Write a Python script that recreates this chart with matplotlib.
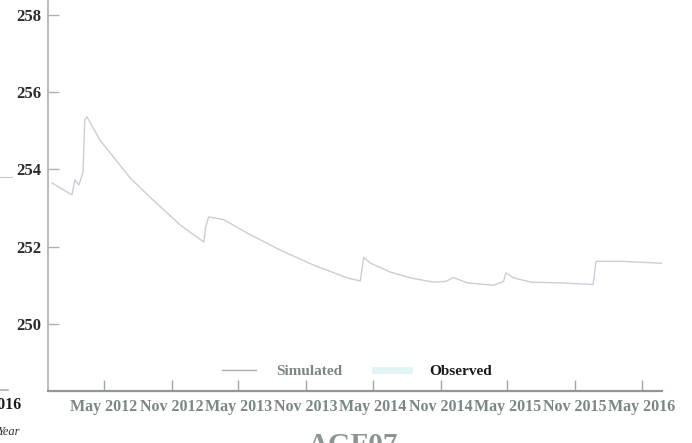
import matplotlib
matplotlib.use("Agg")
import matplotlib.pyplot as plt
from matplotlib.lines import Line2D
import pandas as pd

# Simulated groundwater head at well AGF07
sim_dates = [
    "2011-12-12", "2012-02-04", "2012-02-12", "2012-02-23", "2012-03-05",
    "2012-03-10", "2012-03-16", "2012-04-20", "2012-07-11",
    "2012-09-11", "2012-11-24", "2013-01-27", "2013-02-01", "2013-02-09",
    "2013-03-22", "2013-05-25", "2013-08-23", "2013-11-21", "2014-02-21",
    "2014-03-28", "2014-04-06", "2014-04-25", "2014-06-18", "2014-08-11",
    "2014-10-13", "2014-11-15", "2014-12-06", "2015-01-13", "2015-03-25",
    "2015-04-21", "2015-04-27", "2015-05-19", "2015-07-04", "2015-09-23",
    "2015-12-20", "2015-12-28", "2016-03-05", "2016-06-22",
]
sim_values = [
    253.65, 253.34, 253.73, 253.60, 253.93,
    255.30, 255.36, 254.76, 253.78,
    253.21, 252.56, 252.12, 252.50, 252.77,
    252.70, 252.35, 251.91, 251.52, 251.19,
    251.11, 251.72, 251.57, 251.34, 251.19,
    251.08, 251.10, 251.20, 251.06, 251.00,
    251.10, 251.32, 251.19, 251.08, 251.06,
    251.02, 251.62, 251.62, 251.57,
]

y_ticks = [250, 252, 254, 256, 258]
x_tick_dates = ["2012-05-01", "2012-11-01", "2013-05-01", "2013-11-01",
                "2014-05-01", "2014-11-01", "2015-05-01", "2015-11-01",
                "2016-05-01"]
x_tick_labels = ["May 2012", "Nov 2012", "May 2013", "Nov 2013", "May 2014",
                 "Nov 2014", "May 2015", "Nov 2015", "May 2016"]
legend_labels = ["Simulated", "Observed"]
well_name = "AGF07"

W, H = 692, 443
fig = plt.figure(figsize=(W / 100, H / 100), dpi=100)
ax = fig.add_axes([48 / W, (H - 391) / H, (662 - 48) / W, 391 / H])

serif = ["Liberation Serif", "DejaVu Serif"]
grey_text = "#7b8782"

ax.plot(pd.to_datetime(sim_dates), sim_values, color="#d0cad8", lw=1.0)

ax.set_xlim(pd.Timestamp("2011-12-01"), pd.Timestamp("2016-06-24"))
ax.set_ylim(248.26, 258.39)

ax.set_xticks(pd.to_datetime(x_tick_dates))
ax.set_xticklabels(x_tick_labels, fontfamily=serif, fontweight="bold",
                   fontsize=11.5, color=grey_text)
ax.set_yticks(y_ticks)
ax.set_yticklabels([str(v) for v in y_ticks], fontfamily=serif,
                   fontweight="bold", fontsize=12, color="#2b2b2b")
ax.tick_params(axis="x", direction="in", length=8, width=1, color="#a0a8a4", pad=6)
ax.tick_params(axis="y", direction="in", length=8, width=1, color="#b0b0b0", pad=5)

for side in ("top", "right"):
    ax.spines[side].set_visible(False)
ax.spines["left"].set_color("#b4b4b4")
ax.spines["left"].set_linewidth(1.3)
ax.spines["bottom"].set_color("#8f9894")
ax.spines["bottom"].set_linewidth(1.6)

handles = [
    Line2D([], [], color="#a8aeb0", lw=1.0),
    Line2D([], [], color="#e2f5f5", lw=5),
]
leg = ax.legend(handles, legend_labels, ncol=2, frameon=False,
                loc="center", bbox_to_anchor=((357 - 48) / 614, (391 - 371) / 391),
                prop={"family": serif, "weight": "bold", "size": 11},
                handlelength=2.2, columnspacing=2.2, handletextpad=1.3)
leg.get_texts()[0].set_color(grey_text)
leg.get_texts()[1].set_color("#1a1a1a")

# well label below the plot
fig.text(353 / W, (H - 432) / H, well_name, ha="center", va="top",
         fontfamily=serif, fontweight="bold", fontsize=21, color="#8a9490")

# edge of the neighbouring panel
fig.text(21 / W, (H - 405) / H, "May 2016", ha="right", va="center",
         fontfamily=serif, fontweight="bold", fontsize=11.5, color="#1a1a1a")
fig.text(20 / W, (H - 432) / H, "Year", ha="right", va="center",
         fontfamily=serif, fontstyle="italic", fontsize=9, color="#333333")
fig.add_artist(Line2D([0, 8 / W], [(H - 390) / H] * 2, color="#b0b0b0", lw=1.2))
fig.add_artist(Line2D([0, 12 / W], [(H - 177) / H] * 2, color="#c8c8c8", lw=0.8))

fig.savefig("out.png", dpi=100)
